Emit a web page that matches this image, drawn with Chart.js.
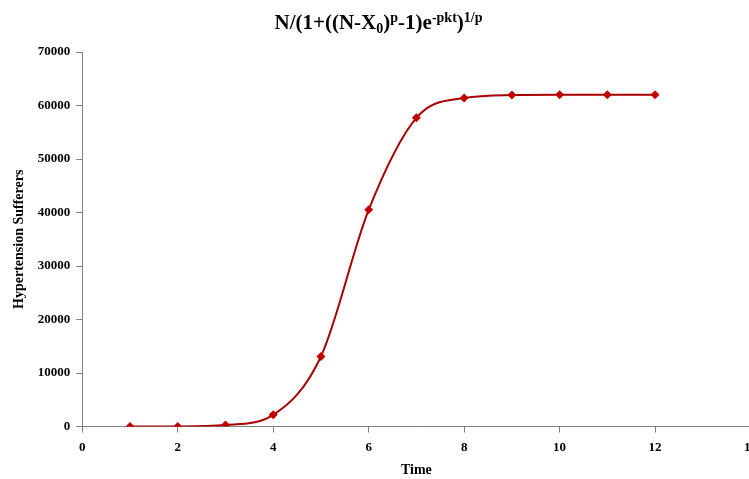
<!DOCTYPE html>
<html>
<head>
<meta charset="utf-8">
<script src="https://cdn.jsdelivr.net/npm/chart.js@4"></script>
<style>
  html, body { margin: 0; padding: 0; background: #fff; overflow: hidden; }
  body { width: 749px; height: 479px; position: relative; }
  #title {
    position: absolute; left: 0; width: 757px; top: 10px; text-align: center; line-height: 24px;
    font-family: "Liberation Serif", serif; font-weight: bold; font-size: 21px; color: #000;
  }
  #title sub, #title sup { font-size: 14px; vertical-align: baseline; position: relative; }
  #title sub { top: 4px; }
  #title sup { top: -7px; }
  #wrap { position: absolute; left: 0; top: 0; width: 764px; height: 479px; }
</style>
</head>
<body>
<div id="wrap"><canvas id="chart"></canvas></div>
<div id="title">N/(1+((N-X<sub>0</sub>)<sup>p</sup>-1)e<sup>-pkt</sup>)<sup>1/p</sup></div>
<script>
const times = [1, 2, 3, 4, 5, 6, 7, 8, 9, 10, 11, 12];
const sufferers = [0, 30, 300, 2200, 13100, 40500, 57700, 61400, 61950, 62000, 62000, 62000];
const xTicks = [0, 2, 4, 6, 8, 10, 12, 14];
const yTicks = [0, 10000, 20000, 30000, 40000, 50000, 60000, 70000];

const serif = '"Liberation Serif", "Times New Roman", serif';

new Chart(document.getElementById('chart'), {
    type: 'line',
    data: {
        datasets: [{
            data: times.map((t, i) => ({ x: t, y: sufferers[i] })),
            borderColor: '#a80000',
            backgroundColor: '#c00000',
            borderWidth: 2,
            pointStyle: 'rectRot',
            pointRadius: 4.5,
            pointBorderWidth: 0,
            cubicInterpolationMode: 'monotone',
            fill: false
        }]
    },
    options: {
        responsive: true,
        maintainAspectRatio: false,
        animation: false,
        layout: { padding: { top: 52, left: 11, right: 0, bottom: 0 } },
        plugins: {
            legend: { display: false },
            tooltip: { enabled: false },
            title: { display: false }
        },
        scales: {
            x: {
                type: 'linear',
                min: 0,
                max: 14,
                afterBuildTicks: axis => { axis.ticks = xTicks.map(v => ({ value: v })); },
                grid: { drawOnChartArea: false, drawTicks: true, tickLength: 6, color: '#808080' },
                border: { color: '#808080', width: 1 },
                ticks: {
                    color: '#000',
                    padding: 7,
                    maxRotation: 0,
                    font: { family: serif, weight: 'bold', size: 13 }
                },
                title: {
                    display: true,
                    text: 'Time',
                    color: '#000',
                    padding: { top: 0, bottom: 0 },
                    font: { family: serif, weight: 'bold', size: 14 }
                }
            },
            y: {
                min: 0,
                max: 70000,
                afterBuildTicks: axis => { axis.ticks = yTicks.map(v => ({ value: v })); },
                grid: { drawOnChartArea: false, drawTicks: true, tickLength: 6, color: '#808080' },
                border: { color: '#808080', width: 1 },
                ticks: {
                    color: '#000',
                    padding: 6,
                    callback: v => String(v),
                    font: { family: serif, weight: 'bold', size: 13 }
                },
                title: {
                    display: true,
                    text: 'Hypertension Sufferers',
                    color: '#000',
                    padding: { top: 0, bottom: 4 },
                    font: { family: serif, weight: 'bold', size: 14 }
                }
            }
        }
    }
});
</script>
</body>
</html>
